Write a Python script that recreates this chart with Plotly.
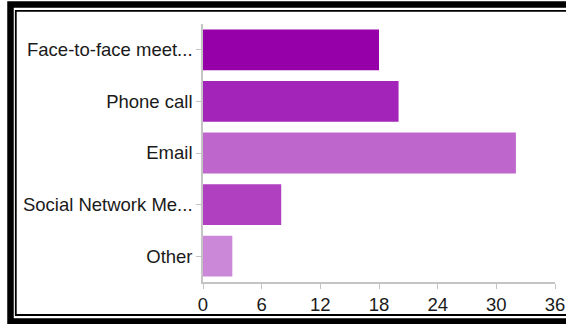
import plotly.graph_objects as go

# Survey: preferred way of being contacted
categories = ["Face-to-face meet...", "Phone call", "Email", "Social Network Me...", "Other"]
counts = [18, 20, 32, 8, 3]
bar_colors = ["#9500a9", "#a324b8", "#bf66cc", "#b040c0", "#cc88d8"]
x_ticks = [0, 6, 12, 18, 24, 30, 36]

W, H = 566, 324
L, R, T, B = 203, 11, 24, 42
pw, ph = W - L - R, H - T - B


def px(x):
    return (x - L) / pw


def py(y):
    return (H - B - y) / ph


fig = go.Figure(
    go.Bar(
        y=categories,
        x=counts,
        orientation="h",
        marker=dict(color=bar_colors, line=dict(width=0)),
    )
)

font = dict(family="Liberation Sans, Arial, sans-serif", size=18.5, color="#1a1a1a")

fig.update_layout(
    width=W,
    height=H,
    margin=dict(l=L, r=R, t=T, b=B, autoexpand=False),
    paper_bgcolor="white",
    plot_bgcolor="white",
    bargap=0.21,
    showlegend=False,
    font=font,
    xaxis=dict(
        range=[0, 36],
        tickvals=x_ticks,
        showgrid=False,
        zeroline=False,
        showline=True,
        linecolor="#c4c4c4",
        linewidth=1.5,
        ticks="outside",
        ticklen=5,
        tickcolor="#c4c4c4",
        tickfont=font,
        automargin=False,
        fixedrange=True,
    ),
    yaxis=dict(
        autorange="reversed",
        showgrid=False,
        zeroline=False,
        showline=True,
        linecolor="#c4c4c4",
        linewidth=1.5,
        ticks="outside",
        ticklen=5,
        tickcolor="#c4c4c4",
        tickfont=font,
        automargin=False,
        fixedrange=True,
    ),
    shapes=[
        # thick outer frame
        dict(type="rect", xref="paper", yref="paper",
             x0=px(10.5), x1=px(580), y0=py(4.5), y1=py(321.5),
             line=dict(color="black", width=6.5), fillcolor="rgba(0,0,0,0)"),
        # thin inner frame
        dict(type="rect", xref="paper", yref="paper",
             x0=px(15.8), x1=px(580), y0=py(10.8), y1=py(315),
             line=dict(color="black", width=1.8), fillcolor="rgba(0,0,0,0)"),
    ],
)

fig.write_html("out.html", config={"displayModeBar": False})
